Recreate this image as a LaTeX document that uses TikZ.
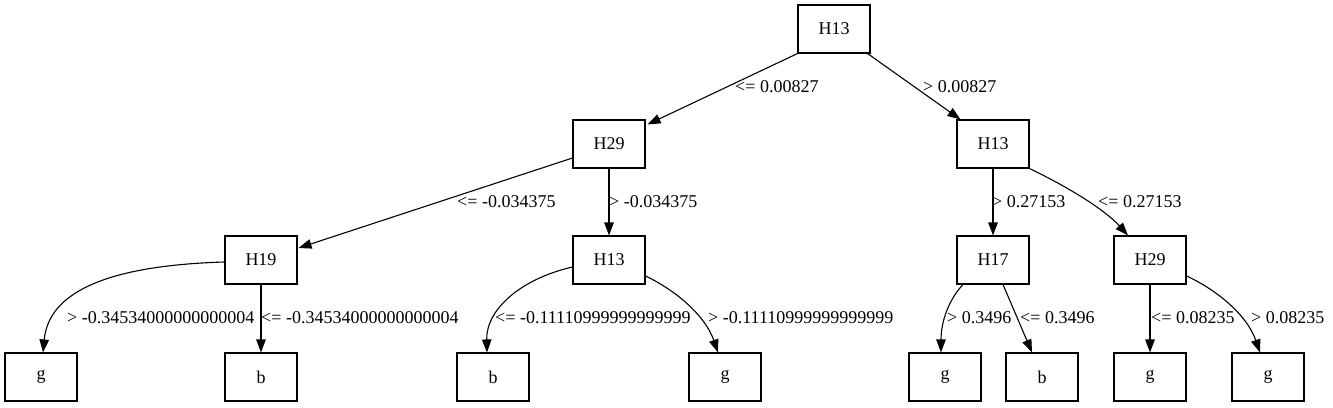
\documentclass[tikz,border=0pt]{standalone}
\usepackage{fontspec}
\setmainfont{Liberation Serif}
\usetikzlibrary{arrows.meta}
\begin{document}
\begin{tikzpicture}[x=1pt,y=-1pt,
  box/.style={draw,line width=1.1pt,minimum width=72pt,minimum height=48pt,inner sep=0pt,font=\fontsize{18}{21}\selectfont},
  lbl/.style={anchor=west,inner sep=0pt,font=\fontsize{18}{21}\selectfont},
  edge/.style={line width=1.1pt,-{Triangle[length=13pt,width=9.5pt]}}]
\useasboundingbox (0,0) rectangle (1333,407);
% nodes
\node[box] (r) at (834,29) {H13};
\node[box] (a) at (609,144) {H29};
\node[box] (c) at (993,144) {H13};
\node[box] (a1) at (261,260) {H19};
\node[box] (a2) at (609,260) {H13};
\node[box] (c1) at (993,260) {H17};
\node[box] (c2) at (1150,260) {H29};
\node[box] (l1) at (41,377) {g};
\node[box] (l2) at (261,377) {b};
\node[box] (l3) at (493,377) {b};
\node[box] (l4) at (725,377) {g};
\node[box] (l5) at (945,377) {g};
\node[box] (l6) at (1042,377) {b};
\node[box] (l7) at (1150,377) {g};
\node[box] (l8) at (1268,377) {g};
% edges
\draw[edge] (r.south west) -- ([xshift=2pt,yshift=-5pt]a.north east);
\draw[edge] ([xshift=-3pt]r.south east) -- ([xshift=4pt]c.north west);
\draw[edge] ([yshift=-14pt]a.west) -- ([xshift=1pt,yshift=12pt]a1.east);
\draw[edge] (a.south) -- (a2.north);
\draw[edge] (c.south) -- (c1.north);
\draw[edge] (c.south east) .. controls (1070,188) and (1105,210) .. ([xshift=-22pt]c2.north);
\draw[edge] ([yshift=-2pt]a1.west) .. controls (90,266) and (48,300) .. ([xshift=2pt]l1.north);
\draw[edge] (a1.south) -- (l2.north);
\draw[edge] ([yshift=-7pt]a2.west) .. controls (520,279) and (486,310) .. ([xshift=-6pt]l3.north);
\draw[edge] ([yshift=-16pt]a2.east) .. controls (675,290) and (705,315) .. ([xshift=-7pt]l4.north);
\draw[edge] ([xshift=-30pt]c1.south) .. controls (950,298) and (941,320) .. ([xshift=-4pt]l5.north);
\draw[edge] ([xshift=10pt]c1.south) -- ([xshift=-10pt]l6.north);
\draw[edge] (c2.south) -- (l7.north);
\draw[edge] ([yshift=-16pt]c2.east) .. controls (1217,290) and (1247,315) .. ([xshift=-8pt]l8.north);
% labels
\node[lbl] (t1) at (735,87) {<= 0.00827};
\node[lbl] (t2) at (923,87) {> 0.00827};
\node[lbl] (t3) at (457,202) {<= -0.034375};
\node[lbl] (t4) at (609,202) {> -0.034375};
\node[lbl] (t5) at (992,202) {> 0.27153};
\node[lbl] (t6) at (1098,202) {<= 0.27153};
\node[lbl] (t7) at (67,318) {> -0.34534000000000004};
\node[lbl] (t8) at (261,318) {<= -0.34534000000000004};
\node[lbl] (t9) at (495,318) {<= -0.11110999999999999};
\node[lbl] (t10) at (708,318) {> -0.11110999999999999};
\node[lbl] (t11) at (947,318) {> 0.3496};
\node[lbl] (t12) at (1020,318) {<= 0.3496};
\node[lbl] (t13) at (1151,318) {<= 0.08235};
\node[lbl] (t14) at (1251,318) {> 0.08235};
\end{tikzpicture}
\end{document}
